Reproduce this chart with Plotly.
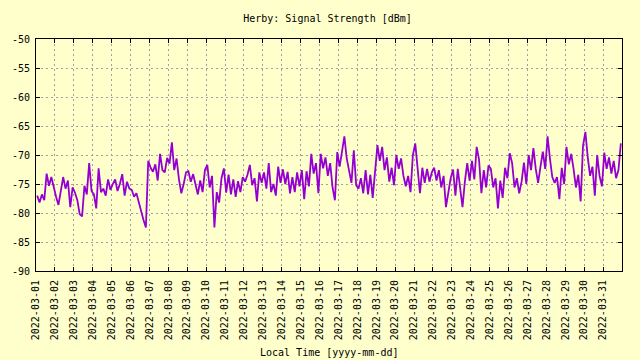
import pandas as pd
import plotly.graph_objects as go

# ---- data (3-hourly readings, dBm) ----
start_time = "2022-03-01 01:30"
sample_freq = "3h"
signal_dbm = [
    -77.0, -78.2, -76.8, -77.8, -73.2, -75.3, -73.8, -75.8,   # 03-01
    -77.2, -78.6, -76.4, -73.8, -75.8, -74.4, -79.0, -75.6,   # 03-02
    -76.5, -77.8, -80.2, -80.6, -75.3, -76.8, -71.4, -76.2,   # 03-03
    -76.8, -79.2, -72.3, -76.4, -75.8, -77.0, -74.2, -76.0,   # 03-04
    -75.0, -74.2, -76.2, -75.0, -73.3, -77.0, -74.6, -75.8,   # 03-05
    -76.0, -77.2, -76.6, -78.3, -79.5, -81.2, -82.5, -71.0,   # 03-06
    -72.2, -72.9, -71.6, -74.4, -69.8, -72.6, -73.0, -70.5,   # 03-07
    -71.5, -67.8, -72.6, -70.6, -74.2, -76.6, -75.0, -73.0,   # 03-08
    -72.8, -74.6, -73.3, -75.2, -76.8, -74.4, -76.4, -72.6,   # 03-09
    -71.7, -75.6, -73.6, -82.5, -76.4, -78.2, -74.0, -72.3,   # 03-10
    -76.5, -73.4, -76.8, -74.2, -77.2, -74.5, -76.4, -73.8,   # 03-11
    -74.6, -73.4, -71.7, -75.2, -74.0, -78.0, -73.0, -74.8,   # 03-12
    -73.0, -75.8, -71.4, -76.4, -75.0, -77.0, -72.0, -74.8,   # 03-13
    -72.5, -75.0, -72.9, -76.6, -73.8, -76.4, -73.0, -75.4,   # 03-14
    -72.6, -77.6, -72.8, -75.4, -69.8, -73.2, -71.4, -76.6,   # 03-15
    -69.8, -72.3, -70.4, -73.6, -71.4, -75.6, -77.8, -69.5,   # 03-16
    -72.0, -69.4, -66.8, -70.6, -72.6, -74.8, -69.2, -75.2,   # 03-17
    -75.8, -74.0, -76.6, -72.6, -76.8, -73.4, -77.4, -72.5,   # 03-18
    -68.3, -71.0, -68.6, -72.6, -70.4, -74.6, -72.2, -75.2,   # 03-19
    -70.0, -72.4, -70.6, -73.6, -75.4, -73.6, -76.4, -70.0,   # 03-20
    -68.0, -72.3, -76.6, -72.2, -74.8, -72.4, -74.6, -73.0,   # 03-21
    -72.2, -74.4, -72.6, -75.6, -73.6, -79.0, -76.2, -74.0,   # 03-22
    -72.5, -77.0, -72.4, -76.0, -79.0, -74.6, -71.4, -74.4,   # 03-23
    -71.0, -74.2, -68.6, -70.8, -76.6, -72.6, -75.6, -71.8,   # 03-24
    -72.4, -75.6, -74.0, -79.2, -74.4, -77.4, -72.2, -74.0,   # 03-25
    -69.7, -71.4, -75.6, -74.0, -76.6, -74.6, -71.3, -75.0,   # 03-26
    -70.0, -72.6, -68.8, -72.4, -74.8, -72.0, -69.4, -72.4,   # 03-27
    -66.8, -70.6, -73.8, -74.8, -73.8, -77.6, -72.2, -75.0,   # 03-28
    -68.6, -71.6, -69.8, -72.4, -75.6, -73.4, -78.0, -68.4,   # 03-29
    -66.0, -70.4, -73.6, -72.0, -77.0, -70.0, -73.6, -75.4,   # 03-30
    -69.6, -72.4, -70.4, -73.2, -71.0, -74.0, -72.6, -68.0,   # 03-31
]
tick_dates = [f"2022-03-{d:02d}" for d in range(1, 32)]
x_range = ["2022-03-01", "2022-04-01"]
y_range = [-90, -50]
y_ticks = [-90, -85, -80, -75, -70, -65, -60, -55, -50]

times = pd.date_range(start=start_time, periods=len(signal_dbm), freq=sample_freq)

BG = "#ffffcc"
FONT = "DejaVu Sans Mono"
GRID = "#a0a0a0"

fig = go.Figure()
fig.add_trace(go.Scatter(
    x=times, y=signal_dbm, mode="lines",
    line=dict(color="#9400d3", width=1.8),
    showlegend=False, hoverinfo="skip",
))

axis_common = dict(
    showline=True, linecolor="black", linewidth=1, mirror="allticks",
    ticks="inside", tickcolor="black", ticklen=4,
    showgrid=True, gridcolor=GRID, griddash="2px,3px", gridwidth=1,
    zeroline=False,
    tickfont=dict(family=FONT, size=10, color="black"),
)

fig.update_xaxes(
    **axis_common,
    type="date", range=x_range,
    tickmode="array", tickvals=tick_dates, ticktext=tick_dates,
    tickangle=-90, ticklabelstandoff=4,
)
fig.update_yaxes(
    **axis_common,
    range=y_range, tickmode="array", tickvals=y_ticks,
    ticktext=[str(v) for v in y_ticks], ticklabelstandoff=3,
)

fig.update_layout(
    width=640, height=360,
    margin=dict(l=33, r=18, t=39, b=89),
    paper_bgcolor=BG, plot_bgcolor=BG,
    font=dict(family=FONT, size=10, color="black"),
    title=dict(text="Herby: Signal Strength [dBm]", x=(33 + 622) / 2 / 640,
               xanchor="center", y=1 - 18 / 360, yanchor="middle",
               font=dict(family=FONT, size=10, color="black")),
    annotations=[dict(
        text="Local Time [yyyy-mm-dd]", xref="paper", yref="paper",
        x=0.5, y=(271 - 352) / 232, xanchor="center", yanchor="middle",
        showarrow=False, font=dict(family=FONT, size=10, color="black"),
    )],
)

fig.write_html(
    "out.html",
    config={"displayModeBar": False},
    post_script="document.body.style.margin='0px';document.body.style.background='#ffffcc';",
)
